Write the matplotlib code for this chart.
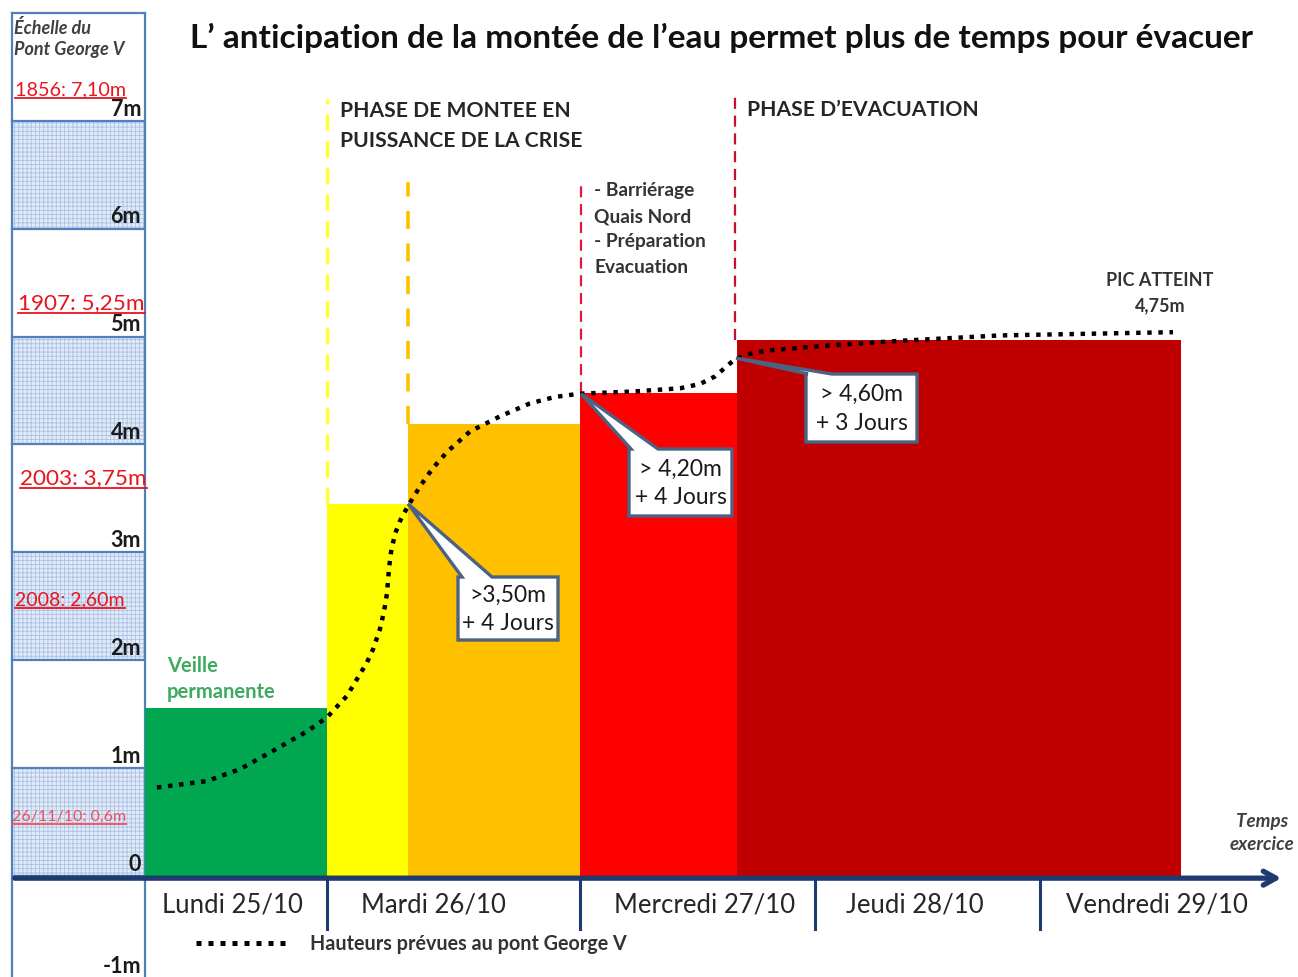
import numpy as np
import matplotlib.pyplot as plt
from matplotlib.patches import Rectangle, Polygon

plt.rcParams['font.family'] = ['Lato', 'DejaVu Sans']
plt.rcParams['hatch.linewidth'] = 0.6

# --- echelle du pont George V (m) ---
scale_levels = [-1, 0, 1, 2, 3, 4, 5, 6, 7]
scale_labels = ['-1m', '0', '1m', '2m', '3m', '4m', '5m', '6m', '7m']
grid_bands = [0, 2, 4, 6]          # bandes quadrillees de n a n+1
scale_top = 8

# crues historiques
crue_labels = ['1856: 7,10m', '1907: 5,25m', '2003: 3,75m', '2008: 2,60m', '26/11/10: 0,6m']
crue_heights = [7.10, 5.25, 3.75, 2.60, 0.60]

# --- phases (position sur l'axe du temps, hauteur en m) ---
phase_edges = [145, 327, 408, 580, 737, 1181]
phase_heights = [1.56, 3.45, 4.19, 4.48, 4.97]
phase_colors = ['#00A650', '#FFFF00', '#FFC000', '#FF0000', '#C00000']

# jours
day_edges = [145, 327, 580, 815, 1040, 1270]
day_labels = ['Lundi 25/10', 'Mardi 26/10', 'Mercredi 27/10', 'Jeudi 28/10', 'Vendredi 29/10']

# hauteurs prevues au pont George V
forecast_t = [157, 207, 240, 273, 307, 327, 347, 367, 373, 380, 384, 387, 389, 391, 395,
              400, 408, 420, 432, 447, 470, 500, 530, 555, 580, 633, 680, 700, 715, 725,
              735, 750, 767, 833, 900, 1000, 1173]
forecast_h = [0.82, 0.88, 0.99, 1.16, 1.34, 1.47, 1.67, 1.98, 2.10, 2.29, 2.45, 2.62, 2.85,
              3.00, 3.17, 3.29, 3.43, 3.61, 3.77, 3.93, 4.12, 4.26, 4.38, 4.44, 4.47, 4.49,
              4.52, 4.56, 4.63, 4.71, 4.79, 4.84, 4.87, 4.92, 4.96, 5.01, 5.04]

# seuils annonces
callout_texts = ['>3,50m\n+ 4 Jours', '> 4,20m\n+ 4 Jours', '> 4,60m\n+ 3 Jours']
callout_tips = [(408, 3.45), (581, 4.47), (736, 4.80)]

# pixel -> metres (0 m a 877 px, 107.9 px par metre)
def py(p):
    return (877 - p) / 107.9


def lines(x, ys, texts, **kw):
    for y, t in zip(ys, texts):
        ax.text(x, py(y), t, va='center', **kw)


fig = plt.figure(figsize=(12.98, 9.78), dpi=100)
ax = fig.add_axes([0, 0, 1, 1])
ax.set_xlim(0, 1298)
ax.set_ylim(py(978), py(0))
ax.axis('off')

# echelle
scale_x0, scale_x1 = 12, 145
for b in grid_bands:
    ax.add_patch(Rectangle((scale_x0, b), scale_x1 - scale_x0, 1, facecolor='#E2EAF6',
                           edgecolor='#A9C2E6', hatch='++++', linewidth=0, zorder=1))
for lv in range(0, scale_top + 1):
    ax.plot([scale_x0, scale_x1], [lv, lv], color='#4F81BD', lw=1.6, zorder=2)
for xv in [scale_x0, scale_x1]:
    ax.plot([xv, xv], [py(978), scale_top], color='#4F81BD', lw=1.6, zorder=2)
for lv, lab in zip(scale_levels, scale_labels):
    ax.text(141, max(lv + 0.02, py(977)), lab, ha='right', va='bottom', fontsize=15.5,
            weight='bold', color='#1a1a1a', zorder=5)

lines(14, [28, 50], ['Échelle du', 'Pont George V'], fontsize=13, style='italic',
      weight='bold', color='#404040')

crue_x = [15, 18, 20, 15, 12]
crue_text_y = [py(90), py(303), py(478), py(600), py(817)]
crue_sizes = [14.2, 16.2, 16.2, 14, 11.5]
crue_cols = ['#E8141E', '#E8141E', '#E8141E', '#E8141E', '#F0505A']
crue_texts = []
for x, y, lab, s, c in zip(crue_x, crue_text_y, crue_labels, crue_sizes, crue_cols):
    crue_texts.append(ax.text(x, y, lab, fontsize=s, color=c, va='center', zorder=5))

# phases
ax.bar(phase_edges[:-1], phase_heights, width=np.diff(phase_edges), align='edge',
       color=phase_colors, linewidth=0, zorder=2)

# traits pointilles de debut de phase
mark_x = [327, 408, 581, 735]
mark_top = [py(100), py(183), py(183), py(93)]
mark_bottom = [phase_heights[1], phase_heights[2], phase_heights[3], phase_heights[4]]
mark_cols = ['#FFFF33', '#FFC000', '#E3173B', '#C8102E']
mark_lw = [2.4, 2.6, 1.6, 1.6]
mark_dash = [(0, (5, 3)), (0, (5, 4)), (0, (5, 3)), (0, (5, 3))]
for x, t, b, c, w, d in zip(mark_x, mark_top, mark_bottom, mark_cols, mark_lw, mark_dash):
    ax.plot([x, x], [b, t], color=c, lw=w, linestyle=d, zorder=2)

# courbe prevue
ax.plot(forecast_t, forecast_h, color='black', lw=3.2, linestyle=(0, (1, 1.5)),
        dash_capstyle='butt', zorder=4)

# bulles
boxes = [(458, 558, 578, 641), (629, 732, 450, 517), (806, 917, 375, 443)]
bases = [(462, 492), (631, 658), (808, 832)]
for (x0, x1, t, b), (a0, a1), tip, txt in zip(boxes, bases, callout_tips, callout_texts):
    yt, yb = py(t), py(b)
    verts = [(x0, yt), (a0, yt), tip, (a1, yt), (x1, yt), (x1, yb), (x0, yb)]
    ax.add_patch(Polygon(verts, closed=True, facecolor='white', edgecolor='#4C6283',
                         lw=2.4, joinstyle='miter', zorder=6))
    ax.text((x0 + x1) / 2, (yt + yb) / 2, txt, ha='center', va='center', fontsize=16.5,
            color='#1a1a1a', linespacing=1.45, zorder=7)

# axe du temps
ax.annotate('', xy=(1284, -0.02), xytext=(12, -0.02),
            arrowprops=dict(arrowstyle='->,head_length=0.9,head_width=0.5',
                            color='#1F3A6E', lw=3.8), zorder=8)
for x in day_edges[1:-1]:
    ax.plot([x, x], [-0.02, py(930)], color='#1F3A6E', lw=2.2, zorder=8)
day_centers = [232, 433, 705, 915, 1157]
for x, lab in zip(day_centers, day_labels):
    ax.text(x, py(905), lab, ha='center', va='center', fontsize=18.5, color='#262626')

lines(1262, [822, 845], ['Temps', 'exercice'], ha='center', fontsize=13.5,
      style='italic', weight='bold', color='#404040')

# titre et textes
ax.text(722, py(38), "L\u2019 anticipation de la montée de l\u2019eau permet plus de temps pour évacuer",
        ha='center', va='center', fontsize=24, weight='bold', color='#111111')
lines(340, [111, 141], ['PHASE DE MONTEE EN', 'PUISSANCE DE LA CRISE'],
      fontsize=15.2, weight='bold', color='#262626')
lines(747, [110], ['PHASE D\u2019EVACUATION'], fontsize=15.2, weight='bold', color='#262626')
lines(594, [191, 217, 242, 268], ['- Barriérage', 'Quais Nord', '- Préparation', 'Evacuation'],
      fontsize=13.8, weight='bold', color='#333333')
lines(1160, [281, 306], ['PIC ATTEINT', '4,75m'], ha='center', fontsize=13,
      weight='bold', color='#333333')
lines(167, [666, 692], ['Veille', 'permanente'], fontsize=14.5, weight='bold', color='#3DAA60')

# legende
ax.plot([196, 288], [py(944), py(944)], color='black', lw=3.6, linestyle=(0, (1, 1.4)),
        dash_capstyle='butt')
lines(310, [944], ['Hauteurs prévues au pont George V'], fontsize=14.2, weight='bold',
      color='#333333')

# soulignement des crues
fig.canvas.draw()
r = fig.canvas.get_renderer()
inv = ax.transData.inverted()
for t in crue_texts:
    bb = t.get_window_extent(r)
    (ux0, uy0), (ux1, uy1) = inv.transform([(bb.x0, bb.y0), (bb.x1, bb.y0)])
    ax.plot([ux0, ux1], [uy0 - 0.005, uy1 - 0.005], color=t.get_color(), lw=1.3, zorder=5)

plt.savefig('out.png', dpi=100)
